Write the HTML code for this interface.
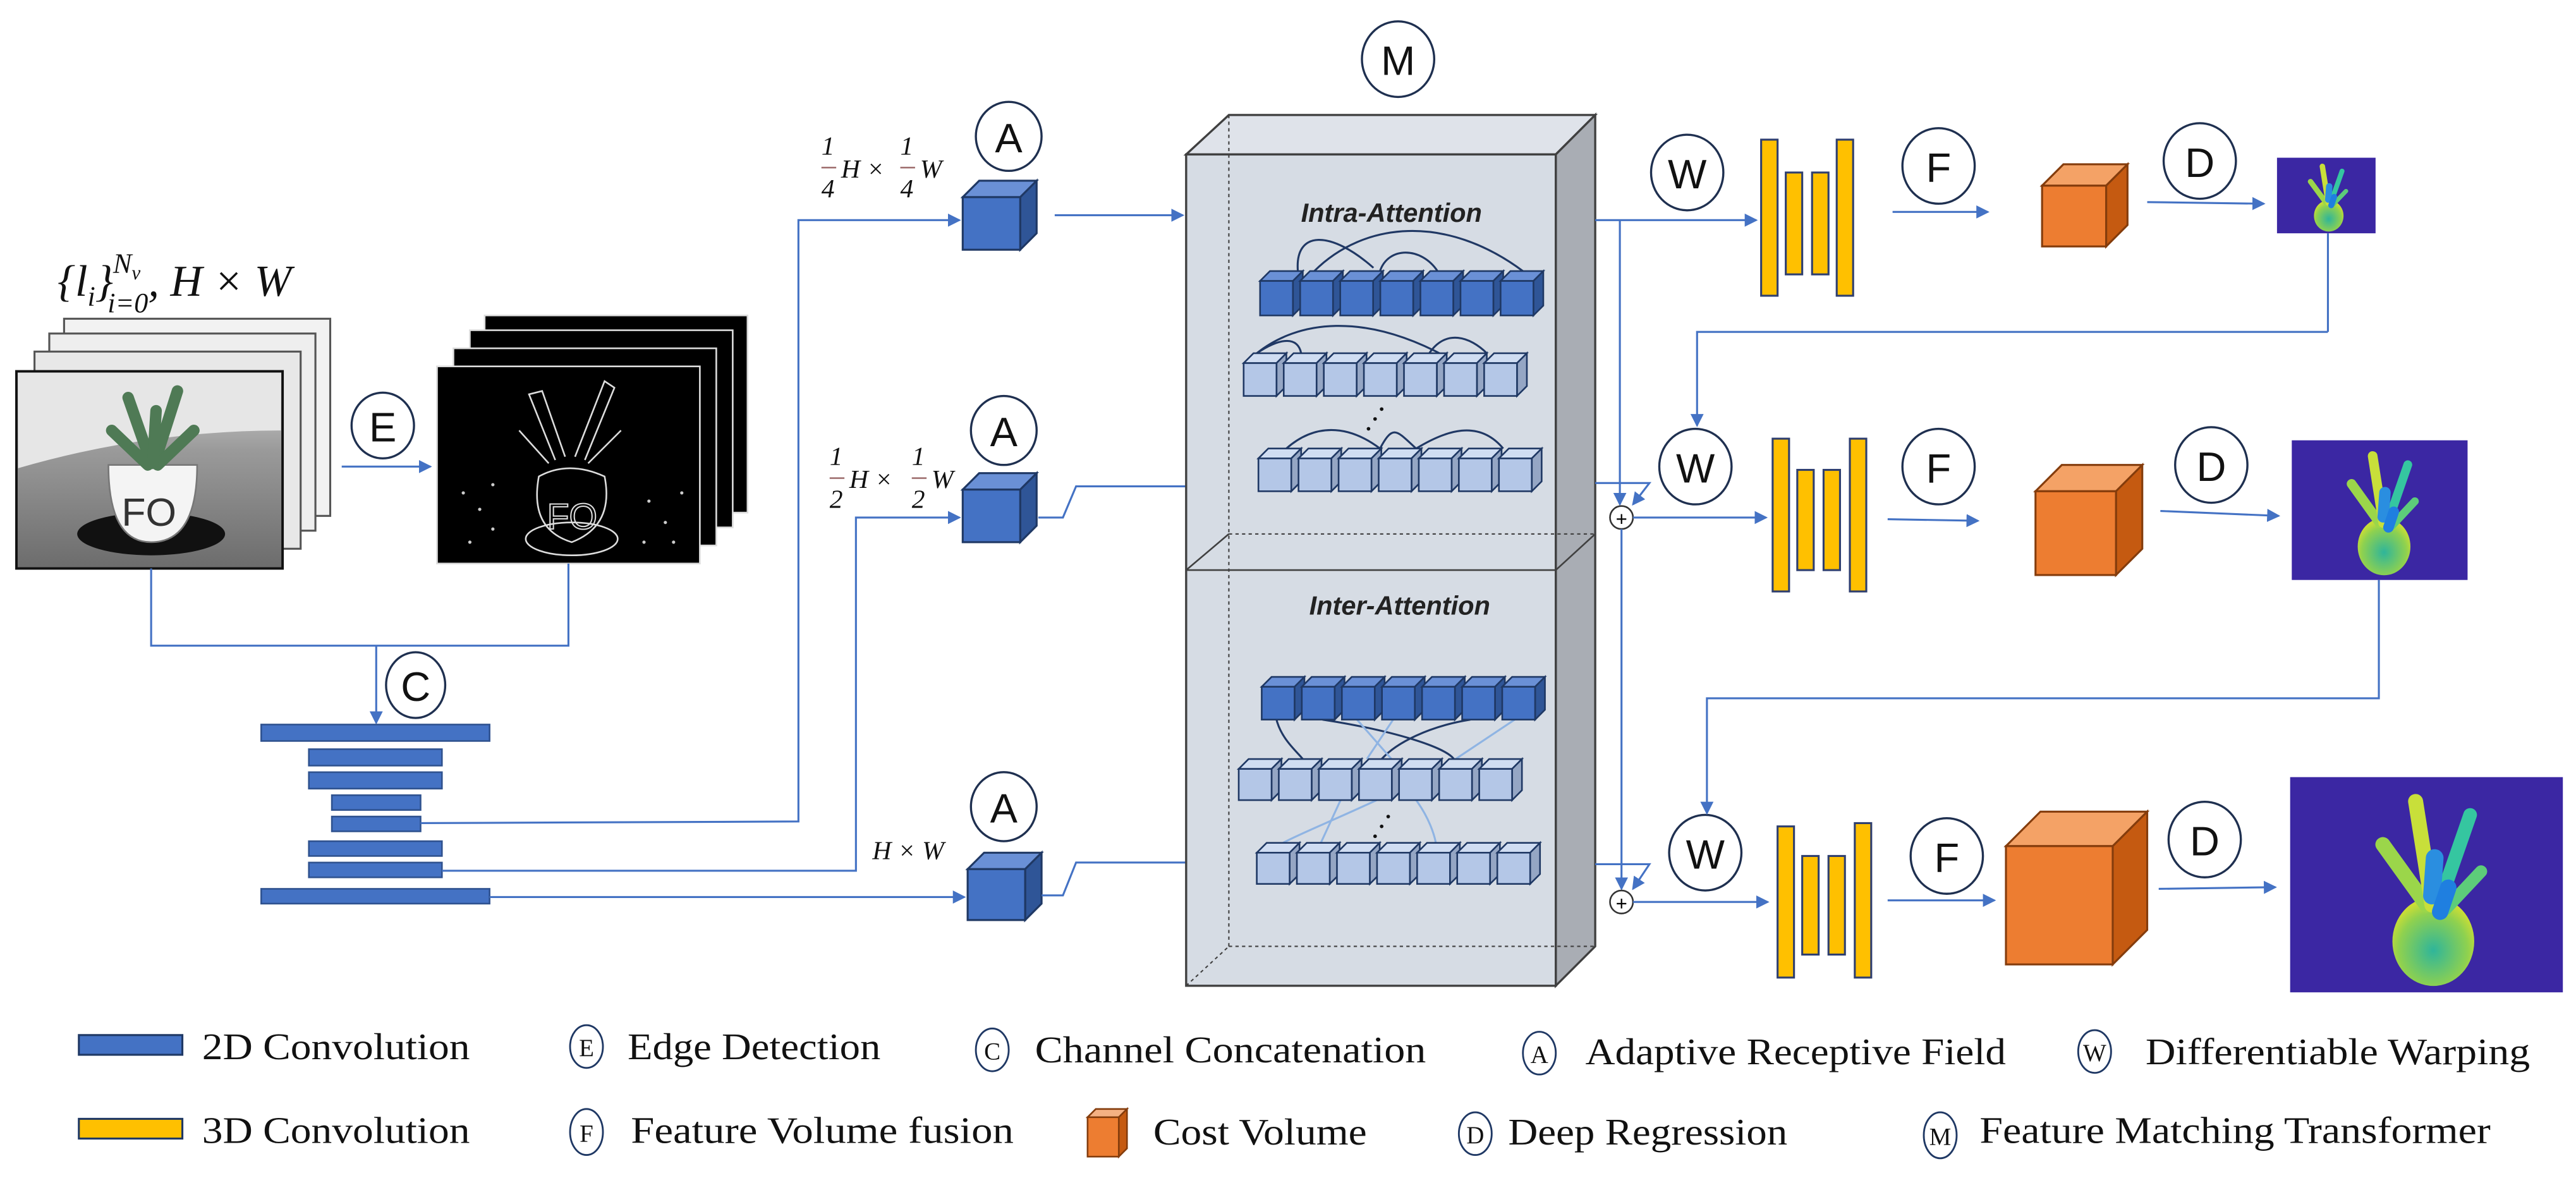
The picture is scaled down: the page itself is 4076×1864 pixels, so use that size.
<!DOCTYPE html>
<html><head><meta charset="utf-8"><style>
html,body{margin:0;padding:0;background:#fff;}
svg{display:block;}
.c{fill:#fff;stroke:#1f3050;stroke-width:1.3;}
.cl{font-family:"Liberation Sans",sans-serif;font-size:25px;fill:#111;text-anchor:middle;dominant-baseline:central;}
.lg{font-family:"Liberation Serif",serif;font-size:23px;fill:#111;dominant-baseline:central;}
.lc{fill:#fff;stroke:#1f3864;stroke-width:1.1;}
.lcl{font-family:"Liberation Serif",serif;font-size:15px;fill:#111;text-anchor:middle;dominant-baseline:central;}
.ln{fill:none;stroke:#4472c4;stroke-width:1.2;}
.m{font-family:"Liberation Serif",serif;font-style:italic;fill:#111;}
</style></head><body>
<svg id="s" width="4076" height="1864" viewBox="0 0 1568 717" preserveAspectRatio="none" xmlns="http://www.w3.org/2000/svg">
<defs>
<marker id="ar" markerWidth="8" markerHeight="8" refX="7" refY="4" orient="auto" markerUnits="userSpaceOnUse"><path d="M0,0 L8,4 L0,8 z" fill="#4472c4"/></marker>
<radialGradient id="dg" cx="50%" cy="60%" r="60%"><stop offset="0" stop-color="#2fb59a"/><stop offset="0.7" stop-color="#8fd14f"/><stop offset="1" stop-color="#d8e030"/></radialGradient>
<linearGradient id="fl" x1="0" y1="0" x2="0" y2="1"><stop offset="0" stop-color="#d8d8d8"/><stop offset="0.4" stop-color="#9a9a9a"/><stop offset="1" stop-color="#6c6c6c"/></linearGradient>
<g id="plant">
<ellipse cx="105" cy="122" rx="30" ry="33" fill="url(#dg)"/>
<g stroke-linecap="round" fill="none">
<path d="M100,95 L68,50" stroke="#9bd64a" stroke-width="11"/><path d="M104,95 L92,18" stroke="#c8df3a" stroke-width="11"/>
<path d="M110,92 L132,28" stroke="#35c6a0" stroke-width="10"/><path d="M114,98 L140,70" stroke="#5dcc7a" stroke-width="9"/>
<path d="M104,88 L106,60" stroke="#2a8ee0" stroke-width="13"/><path d="M110,100 L116,82" stroke="#1f7fe0" stroke-width="12"/>
</g></g>
</defs>

<!-- title -->
<text class="m" x="35" y="180" font-size="27">{<tspan>l</tspan><tspan font-size="17" dy="6">i</tspan><tspan dy="-6">}</tspan><tspan font-size="17" dy="-14">N</tspan><tspan font-size="12" dy="4">v</tspan><tspan font-size="17" dx="-20" dy="20">i=0</tspan><tspan dy="-10">, H × W</tspan></text>

<!-- photo stack -->
<g stroke="#222" stroke-width="1.2">
<rect x="39" y="194" width="162" height="120" fill="#f2f2f2" stroke="#555"/>
<rect x="30" y="203" width="162" height="120" fill="#eee" stroke="#555"/>
<rect x="21" y="214" width="162" height="120" fill="#e8e8e8" stroke="#555"/>
<rect x="10" y="226" width="162" height="120" fill="url(#fl)" stroke="#111" stroke-width="1.5"/>
</g>
<path d="M11,227 H171 V262 Q90,262 11,285 Z" fill="#e6e6e6"/>
<ellipse cx="92" cy="325" rx="45" ry="13" fill="#111"/>
<path d="M66,283 Q66,330 92,330 Q120,330 120,283 Z" fill="#f4f4f4" stroke="#777"/>
<text x="74" y="320" font-family="Liberation Sans" font-size="24" fill="#333">FO</text>
<g stroke="#4f7a55" stroke-width="7" stroke-linecap="round" fill="none">
<path d="M92,282 L78,242"/><path d="M94,282 L108,238"/><path d="M90,283 L68,262"/><path d="M96,283 L118,262"/><path d="M93,282 L95,250"/>
</g>

<!-- E -->
<ellipse class="c" cx="233" cy="259" rx="19" ry="20"/><text class="cl" x="233" y="260">E</text>
<line class="ln" x1="208" y1="284" x2="262" y2="284" marker-end="url(#ar)"/>

<!-- edge stack -->
<g stroke="#fff" stroke-width="1">
<rect x="295" y="192" width="160" height="120" fill="#000" stroke="#ddd"/>
<rect x="286" y="201" width="160" height="120" fill="#000" stroke="#ddd"/>
<rect x="276" y="212" width="160" height="120" fill="#000" stroke="#ddd"/>
<rect x="266" y="223" width="160" height="120" fill="#000" stroke="#ddd"/>
</g>
<g stroke="#ddd" stroke-width="1" fill="none">
<path d="M338,280 L322,240 L330,238 L344,278"/><path d="M350,278 L368,232 L374,236 L356,280"/><path d="M334,282 L316,262"/><path d="M358,282 L378,262"/>
<path d="M328,290 Q346,280 368,290 Q374,320 348,330 Q322,322 328,290 Z"/><ellipse cx="348" cy="328" rx="28" ry="10"/>
<text x="333" y="322" font-family="Liberation Sans" font-size="22" fill="none" stroke="#ddd" stroke-width="0.8">FO</text>
</g>
<g fill="#ccc"><circle cx="282" cy="300" r="1"/><circle cx="292" cy="310" r="1"/><circle cx="300" cy="322" r="1"/><circle cx="286" cy="330" r="1"/><circle cx="395" cy="305" r="1"/><circle cx="405" cy="318" r="1"/><circle cx="410" cy="330" r="1"/><circle cx="392" cy="330" r="1"/><circle cx="300" cy="295" r="1"/><circle cx="415" cy="300" r="1"/></g>

<!-- concat lines -->
<polyline class="ln" points="92,346 92,393 346,393 346,343"/>
<line class="ln" x1="229" y1="393" x2="229" y2="440" marker-end="url(#ar)"/>
<ellipse class="c" cx="253" cy="417" rx="18" ry="20"/><text class="cl" x="253" y="418">C</text>

<!-- conv bars -->
<g fill="#4472c4" stroke="#2f528f" stroke-width="1">
<rect x="159" y="441" width="139" height="10"/>
<rect x="188" y="456" width="81" height="10"/>
<rect x="188" y="470" width="81" height="10"/>
<rect x="202" y="484" width="54" height="9"/>
<rect x="202" y="497" width="54" height="9"/>
<rect x="188" y="512" width="81" height="9"/>
<rect x="188" y="525" width="81" height="9"/>
<rect x="159" y="541" width="139" height="9"/>
</g>
<polyline class="ln" points="256,501 486,500 486,134 584,134" marker-end="url(#ar)"/>
<polyline class="ln" points="269,530 521,530 521,315 584,315" marker-end="url(#ar)"/>
<line class="ln" x1="298" y1="546" x2="587" y2="546" marker-end="url(#ar)"/>

<!-- labels -->
<g class="m" font-size="16">
<text x="500" y="94">1</text><line x1="500" y1="102" x2="509" y2="102" stroke="#a07070" stroke-width="1"/><text x="500" y="120">4</text>
<text x="512" y="108">H ×</text>
<text x="548" y="94">1</text><line x1="548" y1="102" x2="557" y2="102" stroke="#a07070" stroke-width="1"/><text x="548" y="120">4</text>
<text x="560" y="108">W</text>
<text x="505" y="283">1</text><line x1="505" y1="291" x2="514" y2="291" stroke="#a07070" stroke-width="1"/><text x="505" y="309">2</text>
<text x="517" y="297">H ×</text>
<text x="555" y="283">1</text><line x1="555" y1="291" x2="564" y2="291" stroke="#a07070" stroke-width="1"/><text x="555" y="309">2</text>
<text x="567" y="297">W</text>
<text x="531" y="523">H × W</text>
</g>
<ellipse class="c" cx="614" cy="83" rx="20" ry="21"/><text class="cl" x="614" y="84">A</text>
<ellipse class="c" cx="611" cy="262" rx="20" ry="21"/><text class="cl" x="611" y="263">A</text>
<ellipse class="c" cx="611" cy="491" rx="20" ry="21"/><text class="cl" x="611" y="492">A</text>
<ellipse class="c" cx="851" cy="36" rx="22" ry="23"/><text class="cl" x="851" y="37">M</text>

<g id="cubes"></g>

<line class="ln" x1="642" y1="131" x2="720" y2="131" marker-end="url(#ar)"/>
<polyline class="ln" points="632,315 647,315 655,296 722,296"/>
<polyline class="ln" points="634,545 647,545 655,525 722,525"/>

<!-- big box -->
<polygon points="722,94 748,70 971,70 947,94" fill="#dfe3ea" stroke="#404040" stroke-width="1.3"/>
<polygon points="947,94 971,70 971,576 947,600" fill="#a9adb4" stroke="#404040" stroke-width="1.3"/>
<rect x="722" y="94" width="225" height="506" fill="#d6dce4" stroke="#404040" stroke-width="1.3"/>
<g stroke="#404040" stroke-width="0.8" stroke-dasharray="2,2" fill="none">
<line x1="748" y1="70" x2="748" y2="576"/><line x1="748" y1="576" x2="971" y2="576"/><line x1="722" y1="600" x2="748" y2="576"/>
<line x1="748" y1="325" x2="971" y2="325"/>
</g>
<line x1="722" y1="347" x2="947" y2="347" stroke="#404040" stroke-width="1"/>
<line x1="722" y1="347" x2="748" y2="325" stroke="#404040" stroke-width="1"/>
<line x1="947" y1="347" x2="971" y2="325" stroke="#404040" stroke-width="1"/>
<text x="847" y="135" font-family="Liberation Sans" font-size="16" font-style="italic" font-weight="bold" fill="#222" text-anchor="middle">Intra-Attention</text>
<text x="852" y="374" font-family="Liberation Sans" font-size="16" font-style="italic" font-weight="bold" fill="#222" text-anchor="middle">Inter-Attention</text>

<g id="attn"></g>

<!-- right side connectors -->
<line class="ln" x1="971" y1="134" x2="1069" y2="134" marker-end="url(#ar)"/>
<line class="ln" x1="986" y1="134" x2="986" y2="307" marker-end="url(#ar)"/>
<polyline class="ln" points="971,294 1004,294 994,307" marker-end="url(#ar)"/>
<circle cx="987" cy="315" r="7" fill="#fff" stroke="#333" stroke-width="1"/><text x="987" y="316" font-family="Liberation Sans" font-size="12" text-anchor="middle" dominant-baseline="central">+</text>
<line class="ln" x1="994" y1="315" x2="1075" y2="315" marker-end="url(#ar)"/>
<line class="ln" x1="987" y1="322" x2="987" y2="541" marker-end="url(#ar)"/>
<polyline class="ln" points="971,526 1004,526 994,541" marker-end="url(#ar)"/>
<circle cx="987" cy="549" r="7" fill="#fff" stroke="#333" stroke-width="1"/><text x="987" y="550" font-family="Liberation Sans" font-size="12" text-anchor="middle" dominant-baseline="central">+</text>
<line class="ln" x1="994" y1="549" x2="1076" y2="549" marker-end="url(#ar)"/>

<ellipse class="c" cx="1027" cy="105" rx="22" ry="23"/><text class="cl" x="1027" y="106">W</text>
<ellipse class="c" cx="1032" cy="284" rx="22" ry="23"/><text class="cl" x="1032" y="285">W</text>
<ellipse class="c" cx="1038" cy="519" rx="22" ry="23"/><text class="cl" x="1038" y="520">W</text>

<!-- yellow bars -->
<g fill="#ffc000" stroke="#2f3f6f" stroke-width="1.2">
<rect x="1072" y="85" width="10" height="95"/><rect x="1087" y="105" width="10" height="62"/><rect x="1103" y="105" width="10" height="62"/><rect x="1118" y="85" width="10" height="95"/>
<rect x="1079" y="267" width="10" height="93"/><rect x="1094" y="286" width="10" height="61"/><rect x="1110" y="286" width="10" height="61"/><rect x="1126" y="267" width="10" height="93"/>
<rect x="1082" y="503" width="10" height="92"/><rect x="1097" y="521" width="10" height="60"/><rect x="1113" y="521" width="10" height="60"/><rect x="1129" y="501" width="10" height="94"/>
</g>

<ellipse class="c" cx="1180" cy="101" rx="22" ry="23"/><text class="cl" x="1180" y="102">F</text>
<ellipse class="c" cx="1180" cy="284" rx="22" ry="23"/><text class="cl" x="1180" y="285">F</text>
<ellipse class="c" cx="1185" cy="521" rx="22" ry="23"/><text class="cl" x="1185" y="522">F</text>
<line class="ln" x1="1152" y1="129" x2="1210" y2="129" marker-end="url(#ar)"/>
<line class="ln" x1="1149" y1="316" x2="1204" y2="317" marker-end="url(#ar)"/>
<line class="ln" x1="1149" y1="548" x2="1214" y2="548" marker-end="url(#ar)"/>

<ellipse class="c" cx="1339" cy="98" rx="22" ry="23"/><text class="cl" x="1339" y="99">D</text>
<ellipse class="c" cx="1346" cy="283" rx="22" ry="23"/><text class="cl" x="1346" y="284">D</text>
<ellipse class="c" cx="1342" cy="511" rx="22" ry="23"/><text class="cl" x="1342" y="512">D</text>
<line class="ln" x1="1307" y1="123" x2="1378" y2="124" marker-end="url(#ar)"/>
<line class="ln" x1="1315" y1="311" x2="1387" y2="314" marker-end="url(#ar)"/>
<line class="ln" x1="1314" y1="541" x2="1385" y2="540" marker-end="url(#ar)"/>

<!-- depth images -->
<rect x="1386" y="96" width="60" height="46" fill="#3b27a3"/>
<g transform="translate(1386,96) scale(0.3,0.29)"><use href="#plant"/></g>
<rect x="1395" y="268" width="107" height="85" fill="#3b27a3"/>
<g transform="translate(1395,268) scale(0.535,0.53)"><use href="#plant"/></g>
<rect x="1394" y="473" width="166" height="131" fill="#3b27a3"/>
<g transform="translate(1394,473) scale(0.83,0.82)"><use href="#plant"/></g>

<line class="ln" x1="1417" y1="142" x2="1417" y2="202"/>
<polyline class="ln" points="1417,202 1033,202 1033,259" marker-end="url(#ar)"/>
<polyline class="ln" points="1448,353 1448,425 1039,425 1039,495" marker-end="url(#ar)"/>

<!-- legend -->
<rect x="48" y="630" width="63" height="12" fill="#4472c4" stroke="#1f3864" stroke-width="1.2"/>
<text class="lg" x="123" y="637" textLength="163" lengthAdjust="spacingAndGlyphs">2D Convolution</text>
<ellipse class="lc" cx="357" cy="637" rx="10" ry="13"/><text class="lcl" x="357" y="638">E</text>
<text class="lg" x="382" y="637" textLength="154" lengthAdjust="spacingAndGlyphs">Edge Detection</text>
<ellipse class="lc" cx="604" cy="639" rx="10" ry="13"/><text class="lcl" x="604" y="640">C</text>
<text class="lg" x="630" y="639" textLength="238" lengthAdjust="spacingAndGlyphs">Channel Concatenation</text>
<ellipse class="lc" cx="937" cy="641" rx="10" ry="13"/><text class="lcl" x="937" y="642">A</text>
<text class="lg" x="965" y="640" textLength="256" lengthAdjust="spacingAndGlyphs">Adaptive Receptive Field</text>
<ellipse class="lc" cx="1275" cy="640" rx="10" ry="13"/><text class="lcl" x="1275" y="641">W</text>
<text class="lg" x="1306" y="640" textLength="234" lengthAdjust="spacingAndGlyphs">Differentiable Warping</text>

<rect x="48" y="681" width="63" height="12" fill="#ffc000" stroke="#1f3864" stroke-width="1.2"/>
<text class="lg" x="123" y="688" textLength="163" lengthAdjust="spacingAndGlyphs">3D Convolution</text>
<ellipse class="lc" cx="357" cy="689" rx="10" ry="14"/><text class="lcl" x="357" y="690">F</text>
<text class="lg" x="384" y="688" textLength="233" lengthAdjust="spacingAndGlyphs">Feature Volume fusion</text>
<polygon points="662,680 667,675 686,675 681,680" fill="#f4b183" stroke="#843c0c" stroke-width="1"/>
<polygon points="681,680 686,675 686,699 681,704" fill="#c55a11" stroke="#843c0c" stroke-width="1"/>
<rect x="662" y="680" width="19" height="24" fill="#ed7d31" stroke="#843c0c" stroke-width="1"/>
<text class="lg" x="702" y="689" textLength="130" lengthAdjust="spacingAndGlyphs">Cost Volume</text>
<ellipse class="lc" cx="898" cy="690" rx="10" ry="13"/><text class="lcl" x="898" y="691">D</text>
<text class="lg" x="918" y="689" textLength="170" lengthAdjust="spacingAndGlyphs">Deep Regression</text>
<ellipse class="lc" cx="1181" cy="691" rx="10" ry="14"/><text class="lcl" x="1181" y="692">M</text>
<text class="lg" x="1205" y="688" textLength="311" lengthAdjust="spacingAndGlyphs">Feature Matching Transformer</text>
</svg>
<script>
(function(){
var NS="http://www.w3.org/2000/svg";
function el(p,t,a){var e=document.createElementNS(NS,t);for(var k in a)e.setAttribute(k,a[k]);p.appendChild(e);return e;}
function cube(p,x,y,w,h,d,f,tf,sf,st,sw){
 el(p,"polygon",{points:[x,y,x+d,y-d,x+w+d,y-d,x+w,y].join(","),fill:tf,stroke:st,"stroke-width":sw});
 el(p,"polygon",{points:[x+w,y,x+w+d,y-d,x+w+d,y+h-d,x+w,y+h].join(","),fill:sf,stroke:st,"stroke-width":sw});
 el(p,"rect",{x:x,y:y,width:w,height:h,fill:f,stroke:st,"stroke-width":sw});
}
var c=document.getElementById("cubes");
cube(c,586,120,35,32,10,"#4472c4","#6a90d6","#2f5597","#1f3864",1.2);
cube(c,586,298,35,32,10,"#4472c4","#6a90d6","#2f5597","#1f3864",1.2);
cube(c,589,529,35,31,10,"#4472c4","#6a90d6","#2f5597","#1f3864",1.2);
cube(c,1243,113,39,37,13,"#ed7d31","#f4a266","#c55a11","#843c0c",1.2);
cube(c,1239,299,49,51,16,"#ed7d31","#f4a266","#c55a11","#843c0c",1.2);
cube(c,1221,515,65,72,21,"#ed7d31","#f4a266","#c55a11","#843c0c",1.2);
var a=document.getElementById("attn");
function row(x0,yTop,yBot,dark,n){
 var pitch=24.4,d=6,w=20,h=yBot-yTop-d;
 for(var i=0;i<n;i++){
  var x=x0+i*pitch;
  if(dark)cube(a,x,yTop+d,w,h,d,"#4472c4","#6a90d6","#2f5597","#1f3864",1);
  else cube(a,x,yTop+d,w,h,d,"#b4c7e7","#d0ddf2","#95a6c4","#1f3864",1);
 }
}
var arcs=[["M790,165 C788,140 810,140 836,163","M800,165 C830,135 880,130 927,165","M840,165 C845,150 865,150 875,165"],
 ["M765,215 C790,195 830,190 880,217","M765,215 C780,205 790,205 792,215","M870,215 C880,200 895,205 905,215"],
 ["M783,273 C800,258 820,258 840,273","M840,273 C848,258 850,262 862,273","M862,273 C880,262 900,255 915,273"]];
arcs.forEach(function(g){g.forEach(function(dd){el(a,"path",{d:dd,fill:"none",stroke:"#203864","stroke-width":1.2});});});
row(767,165,192,true,7);row(757,215,241,false,7);row(766,273,299,false,7);
["M777,438 C780,450 790,458 793,462","M805,438 C850,445 880,455 885,462","M895,438 C870,442 850,452 841,462"].forEach(function(dd){el(a,"path",{d:dd,fill:"none",stroke:"#203864","stroke-width":1.2});});
["M826,438 L847,462","M848,438 L832,462","M922,438 L886,462","M816,487 L804,513","M838,487 C810,500 790,508 781,513","M862,487 C870,498 873,508 874,513"].forEach(function(dd){el(a,"path",{d:dd,fill:"none",stroke:"#8fb4e3","stroke-width":1.2});});
row(768,412,438,true,7);row(754,462,487,false,7);row(765,513,538,false,7);
[[833,261],[837,255],[841,249],[837,509],[841,503],[845,497]].forEach(function(p){el(a,"circle",{cx:p[0],cy:p[1],r:1.1,fill:"#111"});});
})();
</script>
</body></html>
